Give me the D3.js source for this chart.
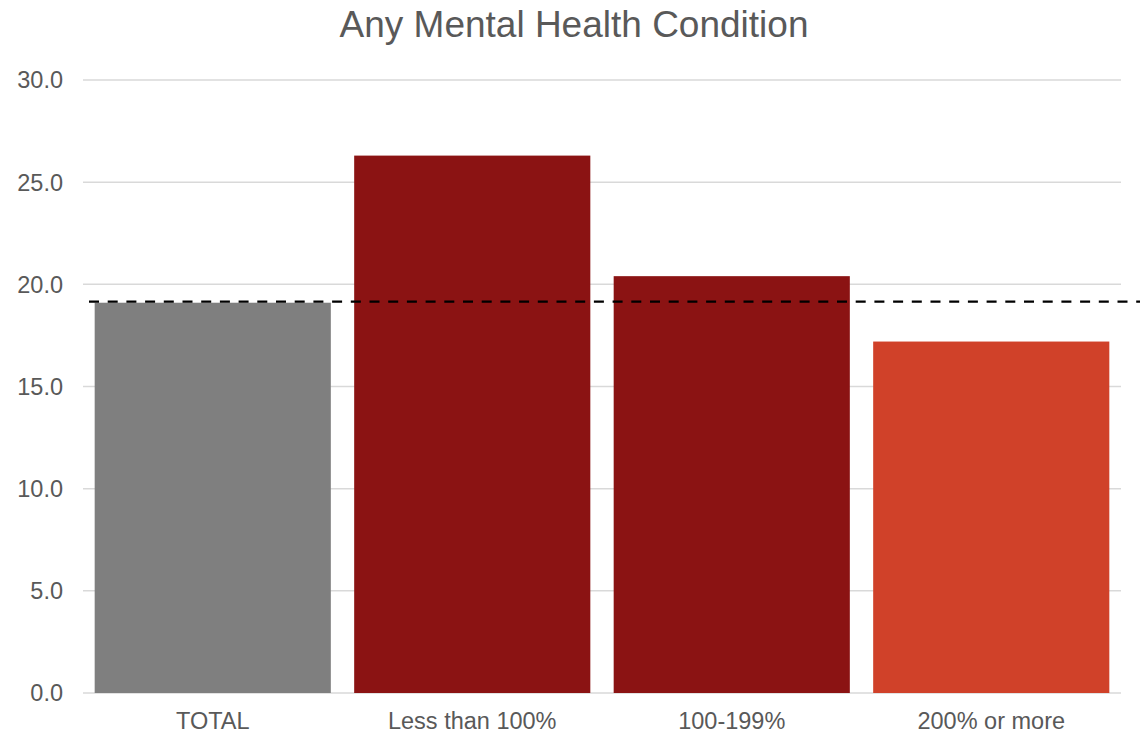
<!DOCTYPE html>
<html><head><meta charset="utf-8">
<script src="https://cdn.jsdelivr.net/npm/d3@7"></script>
<style>body{margin:0;background:#fff}svg{display:block;font-family:"Liberation Sans",Arial,sans-serif}</style>
</head><body>
<svg id="c" width="1140" height="735"></svg>
<script>
const categories = ["TOTAL", "Less than 100%", "100-199%", "200% or more"];
const values = [19.1, 26.3, 20.4, 17.2];
const barColors = ["#7f7f7f", "#8b1313", "#8b1313", "#d04129"];
const referenceValue = 19.15;
const yTicks = [0, 5, 10, 15, 20, 25, 30];
const title = "Any Mental Health Condition";

const svg = d3.select("#c");
const plotLeft = 83, plotRight = 1121, plotTop = 80, plotBottom = 693;
const x = d3.scaleBand().domain(categories).range([plotLeft, plotRight]).paddingInner(0.09).paddingOuter(0.045);
const y = d3.scaleLinear().domain([0, 30]).range([plotBottom, plotTop]);

svg.append("g").selectAll("line").data(yTicks).join("line")
  .attr("x1", plotLeft).attr("x2", plotRight)
  .attr("y1", d => y(d)).attr("y2", d => y(d))
  .attr("stroke", "#d9d9d9").attr("stroke-width", 1.5);

svg.append("g").selectAll("text").data(yTicks).join("text")
  .attr("x", 63).attr("y", d => y(d)).attr("dy", "0.36em")
  .attr("text-anchor", "end").attr("fill", "#595959").attr("font-size", 23.5)
  .text(d => d3.format(".1f")(d));

svg.append("g").selectAll("rect").data(values).join("rect")
  .attr("x", (d, i) => x(categories[i])).attr("width", x.bandwidth())
  .attr("y", d => y(d)).attr("height", d => y(0) - y(d))
  .attr("fill", (d, i) => barColors[i]);

svg.append("line")
  .attr("x1", 89).attr("x2", 1140)
  .attr("y1", y(referenceValue)).attr("y2", y(referenceValue))
  .attr("stroke", "#000").attr("stroke-width", 2.2).attr("stroke-dasharray", "10,8.7");

svg.append("g").selectAll("text").data(categories).join("text")
  .attr("x", d => x(d) + x.bandwidth() / 2).attr("y", 729)
  .attr("text-anchor", "middle").attr("fill", "#595959").attr("font-size", 23.5)
  .text(d => d);

svg.append("text").attr("x", 574).attr("y", 37).attr("text-anchor", "middle")
  .attr("fill", "#595959").attr("font-size", 37).text(title);
</script>
</body></html>
